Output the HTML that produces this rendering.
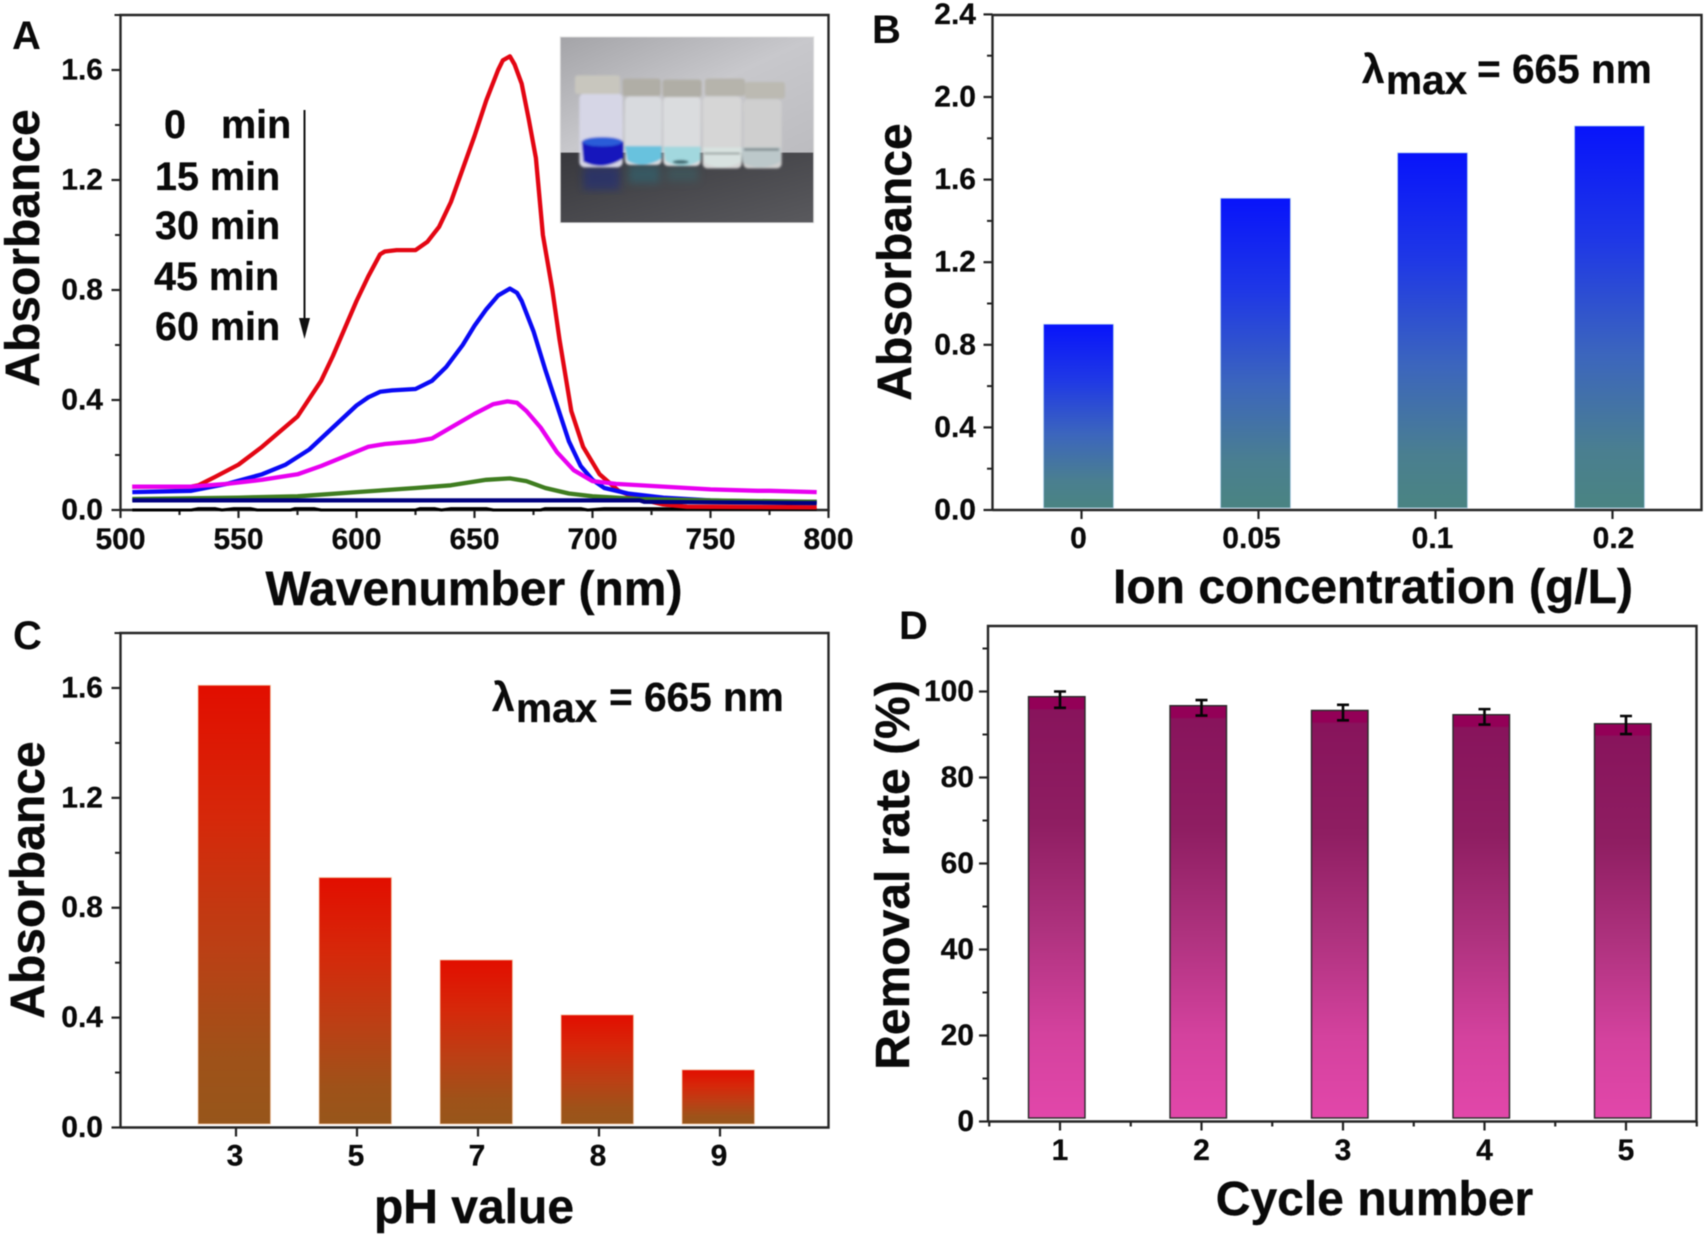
<!DOCTYPE html>
<html lang="en">
<head>
<meta charset="utf-8">
<title>Absorbance and removal rate charts</title>
<style>
html,body{margin:0;padding:0;background:#fff}
svg{display:block;filter:blur(.45px)}
text{font-family:"Liberation Sans",Arial,sans-serif;font-weight:700;fill:#0a0a0a}
.tick{font-size:30px;stroke:#0a0a0a;stroke-width:.25px}
.title{font-size:48px;stroke:#0a0a0a;stroke-width:.4px}
.panel{font-size:40px}
.note{font-size:39.5px;stroke:#0a0a0a;stroke-width:.3px}
.lam{font-size:40.6px;stroke:#0a0a0a;stroke-width:.3px}
</style>
</head>
<body>
<svg id="fig" xmlns="http://www.w3.org/2000/svg" width="1705" height="1236" viewBox="0 0 1705 1236">
<defs>
<linearGradient id="gradB" x1="0" y1="0" x2="0" y2="1">
<stop offset="0" stop-color="#0814fb"/><stop offset=".3" stop-color="#1f38e6"/><stop offset=".6" stop-color="#3c66bd"/><stop offset=".85" stop-color="#4a7f90"/><stop offset="1" stop-color="#4a8482"/>
</linearGradient>
<linearGradient id="gradC" x1="0" y1="0" x2="0" y2="1">
<stop offset="0" stop-color="#e20e00"/><stop offset=".3" stop-color="#d6280a"/><stop offset=".6" stop-color="#bb4015"/><stop offset=".85" stop-color="#9f5219"/><stop offset="1" stop-color="#97561b"/>
</linearGradient>
<linearGradient id="gradD" x1="0" y1="0" x2="0" y2="1">
<stop offset="0" stop-color="#930057"/><stop offset=".028" stop-color="#930057"/><stop offset=".032" stop-color="#88145c"/><stop offset=".3" stop-color="#8f1e62"/><stop offset=".55" stop-color="#ae327e"/><stop offset=".8" stop-color="#d4429e"/><stop offset="1" stop-color="#e247aa"/>
</linearGradient>
<linearGradient id="wall" x1="0" y1="0" x2="1" y2="1">
<stop offset="0" stop-color="#a4a4a8"/><stop offset=".5" stop-color="#c8c8cc"/><stop offset="1" stop-color="#bcbcc0"/>
</linearGradient>
<linearGradient id="bench" x1="0" y1="0" x2="1" y2="1">
<stop offset="0" stop-color="#38383d"/><stop offset="1" stop-color="#5a5a5e"/>
</linearGradient>
<filter id="soft" x="-5%" y="-5%" width="110%" height="110%"><feGaussianBlur stdDeviation="3"/></filter>
<filter id="softer" x="-20%" y="-20%" width="140%" height="140%"><feGaussianBlur stdDeviation="12"/></filter>
<clipPath id="insetClip"><rect x="32" y="22" width="758" height="555"/></clipPath>
</defs>

<!-- Panel letters -->
<text class="panel" x="12" y="49">A</text>
<text class="panel" x="872" y="43">B</text>
<text class="panel" x="13" y="649">C</text>
<text class="panel" x="899" y="639">D</text>

<!-- Axis titles -->
<text class="title" text-anchor="middle" transform="translate(39,248) rotate(-90)">Absorbance</text>
<text class="title" x="474" y="605" text-anchor="middle">Wavenumber (nm)</text>
<text class="title" text-anchor="middle" transform="translate(911,262) rotate(-90)">Absorbance</text>
<text class="title" x="1373" y="603" text-anchor="middle">Ion concentration (g/L)</text>
<text class="title" text-anchor="middle" transform="translate(44,880) rotate(-90)">Absorbance</text>
<text class="title" x="474" y="1223" text-anchor="middle">pH value</text>
<text class="title" text-anchor="middle" transform="translate(909,875) rotate(-90)">Removal rate (%)</text>
<text class="title" x="1374.5" y="1215" text-anchor="middle">Cycle number</text>

<!-- Annotations -->
<g>
<text class="lam" x="1362" y="83">λ</text><text class="lam" x="1386" y="94">max</text><text class="lam" x="1477" y="83">= 665 nm</text>
</g>
<g>
<text class="lam" x="492" y="711">λ</text><text class="lam" x="516" y="722">max</text><text class="lam" x="609" y="711">= 665 nm</text>
</g>
<g>
<text class="note" x="164" y="138">0</text><text class="note" x="221" y="138">min</text>
<text class="note" x="155" y="190">15 min</text>
<text class="note" x="155" y="239">30 min</text>
<text class="note" x="154" y="290">45 min</text>
<text class="note" x="155" y="340">60 min</text>
</g>
<g>
<line x1="304.5" y1="110" x2="304.5" y2="322" stroke="#111" stroke-width="2"/>
<polygon points="299,318 310,318 304.5,339" fill="#111"/>
</g>

<!-- Inset photo drawn from shapes -->
<g id="inset" transform="translate(550,30) scale(.3333)">
<rect x="29" y="19" width="764" height="561" fill="#e2e2e2"/>
<g clip-path="url(#insetClip)">
<rect x="32" y="22" width="758" height="350" fill="url(#wall)"/>
<rect x="32" y="368" width="758" height="212" fill="url(#bench)"/>
<g filter="url(#softer)" opacity=".55">
<rect x="100" y="410" width="110" height="70" fill="#1c2c80"/>
<rect x="235" y="405" width="95" height="55" fill="#2d6a78"/>
<rect x="350" y="410" width="95" height="45" fill="#3a6066"/>
</g>
<g filter="url(#soft)">
<!-- vial 1 -->
<rect x="88" y="190" width="130" height="222" rx="16" fill="#d6d6e6"/>
<path d="M95 335 Q157 310 220 335 V385 Q157 425 100 395Z" fill="#1414bc"/>
<ellipse cx="157" cy="335" rx="60" ry="14" fill="#2a5cd8"/>
<rect x="75" y="136" width="135" height="56" rx="8" fill="#c8c6be"/>
<!-- vial 2 -->
<rect x="225" y="200" width="110" height="205" rx="14" fill="#d8dade"/>
<path d="M225 348 H335 V385 Q280 420 232 392Z" fill="#68c2de"/>
<rect x="218" y="146" width="114" height="52" rx="8" fill="#b0aea6"/>
<!-- vial 3 -->
<rect x="340" y="200" width="112" height="208" rx="14" fill="#dadcde"/>
<path d="M340 350 H452 V390 Q396 425 346 392Z" fill="#a2d8de"/>
<ellipse cx="392" cy="396" rx="24" ry="6" fill="#3c6870"/>
<rect x="338" y="149" width="117" height="52" rx="8" fill="#b0aea6"/>
<!-- vial 4 -->
<rect x="458" y="200" width="117" height="215" rx="14" fill="#d6d6d6"/>
<path d="M458 352 H575 V395 Q516 428 464 398Z" fill="#d8e2e0"/>
<rect x="462" y="368" width="108" height="5" fill="#8e9694"/>
<rect x="465" y="146" width="120" height="52" rx="8" fill="#b6b4ac"/>
<!-- vial 5 -->
<rect x="580" y="208" width="115" height="207" rx="14" fill="#cfcfcf"/>
<path d="M574 352 H692 V395 Q632 428 578 398Z" fill="#bcc8ca"/>
<rect x="582" y="355" width="105" height="7" fill="#7c888c"/>
<rect x="585" y="156" width="120" height="50" rx="8" fill="#bcbab2"/>
</g>
</g>
</g>

<g id="layer"></g>
</svg>

<script>
/* ---------- Panel A data ---------- */
const redNm = [505,530,533,540,550,560,575,585,590,595,600,605,610,612,617,625,630,635,640,645,650,655,660,662,665,667,670,673,676,679,683,686,691,696,703,711,720,730,740,795];
const redAbs = [.085,.085,.09,.12,.165,.23,.34,.47,.56,.66,.76,.85,.93,.94,.945,.945,.975,1.03,1.12,1.24,1.36,1.49,1.6,1.635,1.65,1.62,1.55,1.42,1.28,1.0,.8,.62,.36,.23,.13,.07,.04,.02,.012,.01];
const blueNm = [505,530,545,560,570,580,590,600,605,610,615,625,632,638,645,650,655,660,665,668,670,675,680,685,690,695,700,705,715,730,750,780,795];
const blueAbs = [.065,.07,.095,.13,.165,.22,.3,.38,.41,.43,.435,.44,.47,.52,.6,.67,.73,.78,.805,.79,.76,.65,.51,.38,.25,.16,.11,.08,.06,.045,.035,.03,.03];
const magentaNm = [505,530,545,560,575,585,595,605,612,625,632,640,650,658,664,668,672,678,685,692,700,710,730,750,770,775,795];
const magentaAbs = [.085,.085,.095,.11,.13,.16,.195,.23,.24,.25,.26,.3,.35,.385,.395,.39,.36,.3,.21,.145,.105,.095,.085,.075,.07,.07,.065];
const greenNm = [505,550,575,600,625,640,655,665,672,680,690,700,720,750,795];
const greenAbs = [.04,.045,.05,.065,.08,.09,.11,.115,.105,.08,.06,.05,.04,.035,.03];
const navyNm = [505,720,722,795];
const navyAbs = [.035,.035,.03,.025];
const blackNm = [505,530,533,540,543,548,555,558,572,574,582,585,625,627,633,636,640,655,658,678,680,695,698,705,720,795];
const blackAbs = [0,0,.005,.005,0,.005,.005,0,0,.005,.005,0,0,.005,.005,0,.005,.005,0,0,.005,.005,0,.005,.005,.002];
const panelAXTicks = [500,550,600,650,700,750,800];
const panelAYTicks = [0,0.4,0.8,1.2,1.6];
const panelAYLabels = ['0.0','0.4','0.8','1.2','1.6'];

/* ---------- Panel B data ---------- */
const ionCategories = ['0','0.05','0.1','0.2'];
const ionValues = [0.90,1.51,1.73,1.86];
const panelBYTicks = [0,0.4,0.8,1.2,1.6,2.0,2.4];
const panelBYLabels = ['0.0','0.4','0.8','1.2','1.6','2.0','2.4'];

/* ---------- Panel C data ---------- */
const phCategories = ['3','5','7','8','9'];
const phValues = [1.61,0.91,0.61,0.41,0.21];
const panelCYTicks = [0,0.4,0.8,1.2,1.6];
const panelCYLabels = ['0.0','0.4','0.8','1.2','1.6'];

/* ---------- Panel D data ---------- */
const cycleCategories = ['1','2','3','4','5'];
const removalValues = [98.8,96.7,95.6,94.6,92.5];
const errorCenters = [98.1,96.2,95.1,94.1,92.2];
const errorHalfWidths = [1.9,1.8,1.8,1.8,2.1];
const panelDYTicks = [0,20,40,60,80,100];
const panelDYLabels = ['0','20','40','60','80','100'];

/* ---------- Scales ---------- */
const xA = v => 120.5 + (v - 500) * 2.36;
const yA = v => 510 - v * 275;
const yB = v => 510 - v * 206.5;
const xB = i => 1081.5 + i * 177;
const yC = v => 1127.5 - v * 274.7;
const xC = i => 236 + i * 121;
const yD = v => 1121.5 - v * 4.3;
const xD = i => 1060 + i * 141.5;

const NS = 'http://www.w3.org/2000/svg';
const layer = document.getElementById('layer');
function make(tag, attrs, parent) {
  const el = document.createElementNS(NS, tag);
  for (const k in attrs) el.setAttribute(k, attrs[k]);
  (parent || layer).appendChild(el);
  return el;
}

/* frame + ticks for a panel */
function axes(cfg) {
  const group = make('g', {});
  
  
  const L = cfg.left, R = cfg.right, T = cfg.top, B = cfg.bottom;
  make('path', {d: `M${L} ${B}V${T}H${R}V${B}H${L}`, fill: 'none', stroke: '#262626', 'stroke-width': 2.4}, group);
  cfg.yTicks.forEach((v, i) => {
    const y = cfg.y(v);
    make('line', {x1: L - 9, y1: y, x2: L, y2: y, stroke: '#222', 'stroke-width': 2.2}, group);
    const t = make('text', {class: 'tick', x: cfg.yLabelX, y: y + 9.5, 'text-anchor': 'end'}, group);
    t.textContent = cfg.yLabels[i];
    
    
    if (i < cfg.yTicks.length - 1) {
      const m = cfg.y((v + cfg.yTicks[i + 1]) / 2);
      make('line', {x1: L - 5.5, y1: m, x2: L, y2: m, stroke: '#222', 'stroke-width': 2}, group);
    }
  });
  return group;
}
function yExtra(group, L, y, len) {
  make('line', {x1: L - len, y1: y, x2: L, y2: y, stroke: '#222', 'stroke-width': 2}, group);
}
function xTick(group, x, B, len) {
  make('line', {x1: x, y1: B, x2: x, y2: B + len, stroke: '#222', 'stroke-width': 2.2}, group);
}
function xLabel(group, x, y, s) {
  const t = make('text', {class: 'tick', x, y, 'text-anchor': 'middle'}, group);
  t.textContent = s;
  
  
}

/* ---------- Panel A ---------- */
const gA = axes({name: 'panel-a-axes', left: 120.5, right: 828.5, top: 15, bottom: 510, y: yA, yTicks: panelAYTicks, yLabels: panelAYLabels, yLabelX: 103});
yExtra(gA, 120.5, yA(1.8), 6);
panelAXTicks.forEach((v, i) => {
  xTick(gA, xA(v), 510, 8);
  xLabel(gA, xA(v), 549, String(v));
  if (i < panelAXTicks.length - 1) xTick(gA, xA(v + 25), 510, 5);
});

function curve(nm, abs, color, width) {
  return make('polyline', {
    points: nm.map((n, i) => xA(n).toFixed(1) + ',' + yA(abs[i]).toFixed(1)).join(' '),
    fill: 'none', stroke: color, 'stroke-width': width, 'stroke-linejoin': 'round'
  });
}
const curveBlack = curve(blackNm, blackAbs, '#000', 3);


const curveRed = curve(redNm, redAbs, '#e30613', 4.3);


const curveBlue = curve(blueNm, blueAbs, '#0a0af5', 4.3);


const curveMagenta = curve(magentaNm, magentaAbs, '#e800f0', 4.3);


const curveGreen = curve(greenNm, greenAbs, '#3f7d20', 4.3);


const curveNavy = curve(navyNm, navyAbs, '#00007f', 4.2);



/* ---------- Panel B ---------- */
const gB = axes({name: 'panel-b-axes', left: 992.5, right: 1701.5, top: 15, bottom: 510, y: yB, yTicks: panelBYTicks, yLabels: panelBYLabels, yLabelX: 976});
const labelShiftB = [-3, -7, -3, 1];
ionCategories.forEach((c, i) => {
  xTick(gB, xB(i), 510, 9);
  xLabel(gB, xB(i) + labelShiftB[i], 548, c);
  const top = yB(ionValues[i]);
  const bar = make('rect', {x: xB(i) - 38, y: top, width: 70, height: 508 - top, fill: 'url(#gradB)', stroke: '#bcd8f0', 'stroke-width': .8});
  
  
});

/* ---------- Panel C ---------- */
const gC = axes({name: 'panel-c-axes', left: 120.5, right: 828.5, top: 633, bottom: 1127.5, y: yC, yTicks: panelCYTicks, yLabels: panelCYLabels, yLabelX: 103});
yExtra(gC, 120.5, yC(1.8), 6);
phCategories.forEach((c, i) => {
  xTick(gC, xC(i), 1127.5, 9);
  xLabel(gC, xC(i) - 1, 1165.5, c);
  const top = yC(phValues[i]);
  const bar = make('rect', {x: xC(i) - 38, y: top, width: 72.5, height: 1124 - top, fill: 'url(#gradC)', stroke: '#f4c8a8', 'stroke-width': .8});
  
  
});

/* ---------- Panel D ---------- */
const gD = axes({name: 'panel-d-axes', left: 988, right: 1696.5, top: 626, bottom: 1121.5, y: yD, yTicks: panelDYTicks, yLabels: panelDYLabels, yLabelX: 974});
yExtra(gD, 988, yD(110), 5.5);
cycleCategories.forEach((c, i) => {
  xTick(gD, xD(i), 1121.5, 9);
  xLabel(gD, xD(i), 1160, c);
  xTick(gD, xD(i) - 70.75, 1121.5, 5);
  if (i === cycleCategories.length - 1) xTick(gD, xD(i) + 70.75, 1121.5, 5);
  const top = yD(removalValues[i]);
  const bar = make('rect', {x: xD(i) - 31.5, y: top, width: 56.5, height: 1118 - top, fill: 'url(#gradD)', stroke: '#2a2a2a', 'stroke-width': 1.4});
  
  
});
cycleCategories.forEach((c, i) => {
  const hi = yD(errorCenters[i] + errorHalfWidths[i]);
  const lo = yD(errorCenters[i] - errorHalfWidths[i]);
  const x = xD(i);
  const err = make('path', {d: `M${x - 6} ${hi}H${x + 6}M${x} ${hi}V${lo}M${x - 6} ${lo}H${x + 6}`, fill: 'none', stroke: '#050505', 'stroke-width': 2.6});
  
  
});
</script>
</body>
</html>
